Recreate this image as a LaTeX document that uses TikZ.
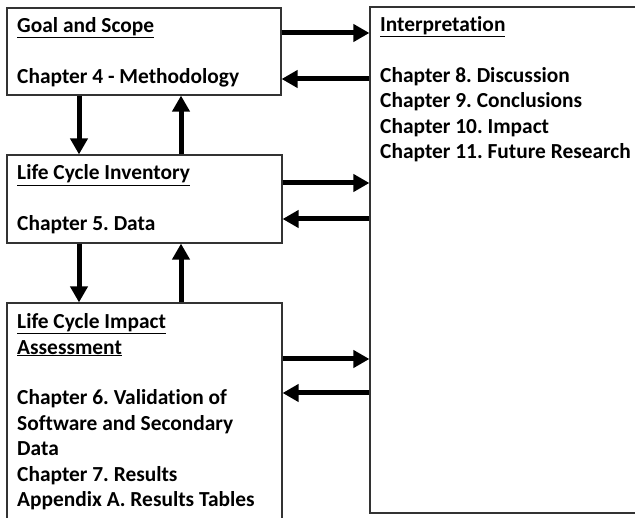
\documentclass[tikz,border=0pt]{standalone}
\usepackage{fontspec}
\setmainfont{Carlito}[Ligatures=NoCommon]
\usetikzlibrary{arrows.meta}
\frenchspacing
\begin{document}
\begin{tikzpicture}[x=1pt,y=-1pt,
  box/.style={draw=black!80,line width=1.2pt,fill=white},
  txt/.style={anchor=base west,align=left,inner sep=0pt,font=\fontsize{21.4pt}{25.5pt}\selectfont\bfseries},
  conn/.style={line width=5pt,-{Triangle[length=16pt,width=17pt]}}]
\useasboundingbox (0,0) rectangle (635,518);
\clip (0,0) rectangle (635,518);
% boxes
\node[box,minimum width=274pt,minimum height=87pt,inner sep=0pt] (gs) at (144,51.5) {};
\node[box,minimum width=275pt,minimum height=88pt,inner sep=0pt] (lci) at (144.5,199) {};
\node[box,minimum width=275pt,minimum height=240pt,inner sep=0pt] (lcia) at (144.5,423) {};
\node[box,minimum width=300pt,minimum height=506pt,inner sep=0pt] (interp) at (520,260) {};
% texts (base anchor = baseline of last line)
\node[txt] (tgs) at (17,83.5) {\underline{Goal and Scope}\\[25.5pt]Chapter 4 - Methodology};
\node[txt] (tlci) at (17,231) {\underline{Life Cycle Inventory}\\[25.5pt]Chapter 5. Data};
\node[txt] (tlcia) at (17,507) {\underline{Life Cycle Impact}\\\underline{Assessment}\\[25.5pt]Chapter 6. Validation of\\Software and Secondary\\Data\\Chapter 7. Results\\Appendix A. Results Tables};
\node[txt] (tint) at (380,159) {\underline{Interpretation}\\[25.5pt]Chapter 8. Discussion\\Chapter 9. Conclusions\\Chapter 10. Impact\\Chapter 11. Future Research};
% horizontal connectors
\draw[conn] (gs.east |- 0,33) -- (interp.west |- 0,33);
\draw[conn] (interp.west |- 0,79) -- (gs.east |- 0,79);
\draw[conn] (lci.east |- 0,183) -- (interp.west |- 0,183);
\draw[conn] (interp.west |- 0,219) -- (lci.east |- 0,219);
\draw[conn] (lcia.east |- 0,359) -- (interp.west |- 0,359);
\draw[conn] (interp.west |- 0,393) -- (lcia.east |- 0,393);
% vertical connectors
\draw[conn] (gs.south -| 79,0) -- (lci.north -| 79,0);
\draw[conn] (lci.north -| 181,0) -- (gs.south -| 181,0);
\draw[conn] (lci.south -| 79,0) -- (lcia.north -| 79,0);
\draw[conn] (lcia.north -| 181,0) -- (lci.south -| 181,0);
\end{tikzpicture}
\end{document}
